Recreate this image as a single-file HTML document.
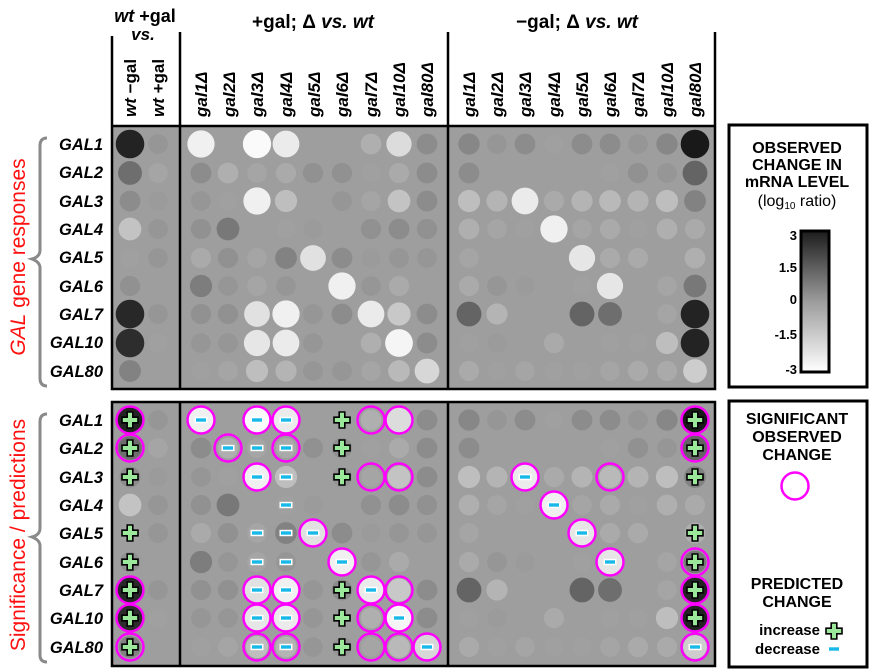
<!DOCTYPE html>
<html><head><meta charset="utf-8"><style>
html,body{margin:0;padding:0;background:#fff;width:885px;height:672px;overflow:hidden}
svg text{font-family:"Liberation Sans",Arial,sans-serif;font-weight:bold}
</style></head><body>
<svg id="s" width="885" height="672" viewBox="0 0 885 672" xmlns="http://www.w3.org/2000/svg">
<g stroke="#000" stroke-width="2.5">
<line x1="112" y1="36" x2="112" y2="125"/>
<line x1="180" y1="32" x2="180" y2="125"/>
<line x1="448" y1="32" x2="448" y2="125"/>
<line x1="715" y1="32" x2="715" y2="125"/>
</g>
<rect x="112" y="126" width="603" height="263" fill="#9e9e9e" stroke="#000" stroke-width="2.5"/>
<rect x="112" y="402" width="603" height="264" fill="#9e9e9e" stroke="#000" stroke-width="2.5"/>
<g stroke="#000" stroke-width="2.5">
<line x1="180" y1="126" x2="180" y2="389"/>
<line x1="448" y1="126" x2="448" y2="389"/>
<line x1="180" y1="402" x2="180" y2="666"/>
<line x1="448" y1="402" x2="448" y2="666"/>
</g>
<g id="dots"></g>
<text x="145" y="22" font-size="18" text-anchor="middle"><tspan font-style="italic">wt</tspan> +gal</text>
<text x="143" y="40" font-size="17" text-anchor="middle" font-style="italic">vs.</text>
<text x="313" y="28" font-size="19" text-anchor="middle">+gal; Δ <tspan font-style="italic">vs. wt</tspan></text>
<text x="577" y="28" font-size="19" text-anchor="middle">−gal; Δ <tspan font-style="italic">vs. wt</tspan></text>
<g font-size="17">
<text transform="translate(136,117) rotate(-90)"><tspan font-style="italic">wt</tspan> −gal</text>
<text transform="translate(164,117) rotate(-90)"><tspan font-style="italic">wt</tspan> +gal</text>
</g>
<g font-size="17" font-style="italic">
<text transform="translate(207,117) rotate(-90)">gal1Δ</text>
<text transform="translate(235,117) rotate(-90)">gal2Δ</text>
<text transform="translate(263,117) rotate(-90)">gal3Δ</text>
<text transform="translate(292,117) rotate(-90)">gal4Δ</text>
<text transform="translate(320,117) rotate(-90)">gal5Δ</text>
<text transform="translate(348,117) rotate(-90)">gal6Δ</text>
<text transform="translate(377,117) rotate(-90)">gal7Δ</text>
<text transform="translate(405,117) rotate(-90)">gal10Δ</text>
<text transform="translate(433,117) rotate(-90)">gal80Δ</text>
<text transform="translate(475,117) rotate(-90)">gal1Δ</text>
<text transform="translate(503,117) rotate(-90)">gal2Δ</text>
<text transform="translate(531,117) rotate(-90)">gal3Δ</text>
<text transform="translate(560,117) rotate(-90)">gal4Δ</text>
<text transform="translate(588,117) rotate(-90)">gal5Δ</text>
<text transform="translate(616,117) rotate(-90)">gal6Δ</text>
<text transform="translate(644,117) rotate(-90)">gal7Δ</text>
<text transform="translate(673,117) rotate(-90)">gal10Δ</text>
<text transform="translate(701,117) rotate(-90)">gal80Δ</text>
</g>
<g font-size="16.5" font-style="italic" text-anchor="end">
<text x="103" y="150">GAL1</text><text x="103" y="178">GAL2</text><text x="103" y="207">GAL3</text>
<text x="103" y="235">GAL4</text><text x="103" y="263">GAL5</text><text x="103" y="292">GAL6</text>
<text x="103" y="320">GAL7</text><text x="103" y="348">GAL10</text><text x="103" y="377">GAL80</text>
<text x="103" y="426">GAL1</text><text x="103" y="454">GAL2</text><text x="103" y="483">GAL3</text>
<text x="103" y="511">GAL4</text><text x="103" y="539">GAL5</text><text x="103" y="568">GAL6</text>
<text x="103" y="596">GAL7</text><text x="103" y="624">GAL10</text><text x="103" y="653">GAL80</text>
</g>
<text transform="translate(25,257) rotate(-90)" font-size="21" fill="#ff1010" text-anchor="middle" style="font-weight:normal"><tspan font-style="italic">GAL</tspan> gene responses</text>
<text transform="translate(25,535) rotate(-90)" font-size="21" fill="#ff1010" text-anchor="middle" style="font-weight:normal">Significance / predictions</text>
<g fill="none" stroke="#8a8a8a" stroke-width="3">
<path d="M47,138 Q40,138 40,146 L40,250 Q40,257 32,259 Q40,262 40,268 L40,378 Q40,386 47,386"/>
<path d="M47,414 Q40,414 40,422 L40,528 Q40,535 32,537 Q40,540 40,546 L40,655 Q40,662 47,662"/>
</g>
<rect x="729" y="125" width="138" height="262" fill="#fff" stroke="#000" stroke-width="3"/>
<g font-size="16" text-anchor="middle">
<text x="797" y="153">OBSERVED</text><text x="797" y="170">CHANGE IN</text><text x="797" y="187">mRNA LEVEL</text>
<text x="797" y="206" style="font-weight:normal">(log<tspan font-size="10" dy="3">10</tspan><tspan dy="-3"> ratio)</tspan></text>
</g>
<defs><linearGradient id="g" x1="0" y1="0" x2="0" y2="1">
<stop offset="0" stop-color="#1c1c1c"/><stop offset="0.5" stop-color="#9c9c9c"/><stop offset="1" stop-color="#fff"/></linearGradient></defs>
<rect x="801" y="231" width="28" height="141" fill="url(#g)" stroke="#000" stroke-width="3"/>
<g font-size="13" text-anchor="end">
<text x="797" y="240">3</text><text x="797" y="272">1.5</text><text x="797" y="304">0</text>
<text x="797" y="339">-1.5</text><text x="797" y="374">-3</text>
</g>
<rect x="729" y="401" width="138" height="266" fill="#fff" stroke="#000" stroke-width="3"/>
<g font-size="16" text-anchor="middle">
<text x="797" y="424">SIGNIFICANT</text><text x="797" y="442">OBSERVED</text><text x="797" y="460">CHANGE</text>
<text x="797" y="589">PREDICTED</text><text x="797" y="607">CHANGE</text>
</g>
<circle cx="795" cy="486" r="13.5" fill="none" stroke="#ff00ff" stroke-width="2.5"/>
<g font-size="15" text-anchor="end" style="font-weight:normal">
<text x="820" y="635">increase</text><text x="820" y="654">decrease</text>
</g>
<g id="leg"></g>
</svg>
<script>
var NS="http://www.w3.org/2000/svg";
function el(t,a,p){var e=document.createElementNS(NS,t);for(var k in a)e.setAttribute(k,a[k]);p.appendChild(e);return e;}
var X=[130,158,201,228,257,286,313,342,371,399,427,469,497,525,554,582,610,638,667,695];
var YU=[144,173,201,229,258,286,314,343,371];
var YL=[420,448,477,505,533,562,590,618,647];
var M=[
[35,150,240,158,250,235,158,158,175,220,140,135,150,140,160,140,140,150,135,25],
[110,165,140,175,165,170,145,145,160,170,140,140,158,158,158,158,160,145,150,100],
[140,155,150,160,240,190,158,150,165,195,140,190,180,235,170,180,185,180,190,130],
[195,150,145,120,158,160,155,158,145,140,145,175,165,160,240,165,170,160,175,170],
[160,150,170,145,165,130,225,140,155,150,150,165,158,158,158,230,170,170,158,175],
[145,158,125,150,165,150,158,240,150,170,158,170,150,155,158,160,230,158,165,120],
[40,150,145,145,225,240,150,140,235,200,140,100,180,158,158,100,110,158,165,35],
[45,160,150,150,230,235,150,158,175,245,140,160,155,158,170,158,160,160,190,35],
[130,158,160,165,190,180,150,150,165,185,215,170,160,165,160,160,165,170,170,205]];
var O=[
[0,0,1,'+'],[0,2,1,'-'],[0,4,1,'-'],[0,5,1,'-'],[0,7,0,'+'],[0,8,1,''],[0,9,1,''],[0,19,1,'+'],
[1,0,1,'+'],[1,3,1,'-'],[1,4,0,'-'],[1,5,1,'-'],[1,7,0,'+'],[1,19,1,'+'],
[2,0,0,'+'],[2,4,1,'-'],[2,5,0,'-'],[2,7,0,'+'],[2,8,1,''],[2,9,1,''],[2,13,1,'-'],[2,16,1,''],[2,19,0,'+'],
[3,5,0,'-'],[3,14,1,'-'],
[4,0,0,'+'],[4,4,0,'-'],[4,5,0,'-'],[4,6,1,'-'],[4,15,1,'-'],[4,19,0,'+'],
[5,0,0,'+'],[5,4,0,'-'],[5,5,0,'-'],[5,7,1,'-'],[5,16,1,'-'],[5,19,1,'+'],
[6,0,1,'+'],[6,4,1,'-'],[6,5,1,'-'],[6,7,0,'+'],[6,8,1,'-'],[6,9,1,''],[6,19,1,'+'],
[7,0,1,'+'],[7,4,1,'-'],[7,5,1,'-'],[7,7,0,'+'],[7,8,1,''],[7,9,1,'-'],[7,19,1,'+'],
[8,0,1,'+'],[8,4,1,'-'],[8,5,1,'-'],[8,7,0,'+'],[8,8,1,''],[8,9,1,''],[8,10,1,'-'],[8,19,1,'-']];
var g=document.getElementById('dots');
function rad(v){return 9.5+4.8*Math.min(1,Math.abs(v-158)/95);}
for(var r=0;r<9;r++)for(var c=0;c<20;c++){var v=M[r][c];var col='rgb('+v+','+v+','+v+')';
 el('circle',{cx:X[c],cy:YU[r],r:rad(v),fill:col},g);
 el('circle',{cx:X[c],cy:YL[r],r:rad(v),fill:col},g);}
function plus(x,y,p){el('path',{d:'M'+(x-2.8)+','+(y-8)+'h5.6v5.2h5.2v5.6h-5.2v5.2h-5.6v-5.2h-5.2v-5.6h5.2z',fill:'#9be89b',stroke:'#000','stroke-width':1.6},p);}
function minus(x,y,p){el('rect',{x:x-6.5,y:y-3.2,width:13,height:6.4,fill:'#fff'},p);el('rect',{x:x-5,y:y-1.7,width:10,height:3.4,fill:'#18b8e8'},p);}
O.forEach(function(o){var x=X[o[1]],y=YL[o[0]];
 if(o[2])el('circle',{cx:x,cy:y,r:13.5,fill:'none',stroke:'#ff00ff','stroke-width':2.5},g);
 if(o[3]=='+')plus(x,y,g);else if(o[3]=='-')minus(x,y,g);});
var L=document.getElementById('leg');plus(834,631,L);minus(834,649,L);
</script>
</body></html>
